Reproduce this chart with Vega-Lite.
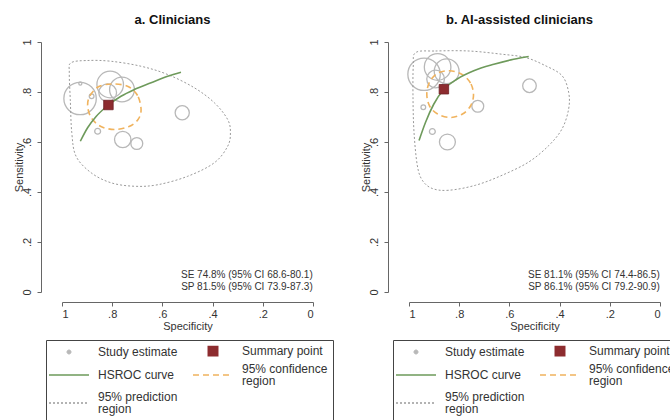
{
  "$schema": "https://vega.github.io/schema/vega-lite/v6.json",
  "padding": {"left": 13, "top": 13, "right": 0, "bottom": 0},
  "config": {
    "view": {"stroke": null},
    "font": "Liberation Sans",
    "axis": {"grid": false}
  },
  "datasets": {
    "a": [
      {"series": "Study estimate", "spec": 0.928, "sens": 0.774, "w": 335},
      {"series": "Study estimate", "spec": 0.927, "sens": 0.834, "w": 3},
      {"series": "Study estimate", "spec": 0.882, "sens": 0.783, "w": 7},
      {"series": "Study estimate", "spec": 0.808, "sens": 0.830, "w": 225},
      {"series": "Study estimate", "spec": 0.761, "sens": 0.810, "w": 196},
      {"series": "Study estimate", "spec": 0.818, "sens": 0.797, "w": 100},
      {"series": "Study estimate", "spec": 0.858, "sens": 0.643, "w": 11},
      {"series": "Study estimate", "spec": 0.758, "sens": 0.610, "w": 86},
      {"series": "Study estimate", "spec": 0.702, "sens": 0.594, "w": 45},
      {"series": "Study estimate", "spec": 0.521, "sens": 0.717, "w": 64},
      {"series": "Summary point", "spec": 0.815, "sens": 0.748, "note": "SE 74.8% (95% CI 68.6-80.1)\nSP 81.5% (95% CI 73.9-87.3)"},
      {"series": "HSROC curve", "ord": 1, "spec": 0.927, "sens": 0.603},
      {"series": "HSROC curve", "ord": 2, "spec": 0.898, "sens": 0.657},
      {"series": "HSROC curve", "ord": 3, "spec": 0.865, "sens": 0.701},
      {"series": "HSROC curve", "ord": 4, "spec": 0.815, "sens": 0.748},
      {"series": "HSROC curve", "ord": 5, "spec": 0.765, "sens": 0.783},
      {"series": "HSROC curve", "ord": 6, "spec": 0.712, "sens": 0.810},
      {"series": "HSROC curve", "ord": 7, "spec": 0.645, "sens": 0.837},
      {"series": "HSROC curve", "ord": 8, "spec": 0.579, "sens": 0.863},
      {"series": "HSROC curve", "ord": 9, "spec": 0.526, "sens": 0.879},
      {"series": "95% confidence region", "ord": 1, "spec": 0.685, "sens": 0.730},
      {"series": "95% confidence region", "ord": 2, "spec": 0.699, "sens": 0.786},
      {"series": "95% confidence region", "ord": 3, "spec": 0.737, "sens": 0.822},
      {"series": "95% confidence region", "ord": 4, "spec": 0.797, "sens": 0.832},
      {"series": "95% confidence region", "ord": 5, "spec": 0.853, "sens": 0.822},
      {"series": "95% confidence region", "ord": 6, "spec": 0.888, "sens": 0.786},
      {"series": "95% confidence region", "ord": 7, "spec": 0.898, "sens": 0.746},
      {"series": "95% confidence region", "ord": 8, "spec": 0.884, "sens": 0.698},
      {"series": "95% confidence region", "ord": 9, "spec": 0.845, "sens": 0.662},
      {"series": "95% confidence region", "ord": 10, "spec": 0.789, "sens": 0.650},
      {"series": "95% confidence region", "ord": 11, "spec": 0.733, "sens": 0.662},
      {"series": "95% confidence region", "ord": 12, "spec": 0.697, "sens": 0.690},
      {"series": "95% prediction region", "ord": 1, "spec": 0.964, "sens": 0.917},
      {"series": "95% prediction region", "ord": 2, "spec": 0.898, "sens": 0.926},
      {"series": "95% prediction region", "ord": 3, "spec": 0.805, "sens": 0.923},
      {"series": "95% prediction region", "ord": 4, "spec": 0.685, "sens": 0.903},
      {"series": "95% prediction region", "ord": 5, "spec": 0.579, "sens": 0.870},
      {"series": "95% prediction region", "ord": 6, "spec": 0.473, "sens": 0.817},
      {"series": "95% prediction region", "ord": 7, "spec": 0.393, "sens": 0.757},
      {"series": "95% prediction region", "ord": 8, "spec": 0.340, "sens": 0.690},
      {"series": "95% prediction region", "ord": 9, "spec": 0.329, "sens": 0.637},
      {"series": "95% prediction region", "ord": 10, "spec": 0.340, "sens": 0.583},
      {"series": "95% prediction region", "ord": 11, "spec": 0.393, "sens": 0.517},
      {"series": "95% prediction region", "ord": 12, "spec": 0.499, "sens": 0.463},
      {"series": "95% prediction region", "ord": 13, "spec": 0.619, "sens": 0.429},
      {"series": "95% prediction region", "ord": 14, "spec": 0.712, "sens": 0.423},
      {"series": "95% prediction region", "ord": 15, "spec": 0.805, "sens": 0.437},
      {"series": "95% prediction region", "ord": 16, "spec": 0.884, "sens": 0.477},
      {"series": "95% prediction region", "ord": 17, "spec": 0.944, "sens": 0.543},
      {"series": "95% prediction region", "ord": 18, "spec": 0.961, "sens": 0.637},
      {"series": "95% prediction region", "ord": 19, "spec": 0.967, "sens": 0.770},
      {"series": "95% prediction region", "ord": 20, "spec": 0.971, "sens": 0.877}
    ],
    "b": [
      {"series": "Study estimate", "spec": 0.940, "sens": 0.871, "w": 335},
      {"series": "Study estimate", "spec": 0.886, "sens": 0.900, "w": 225},
      {"series": "Study estimate", "spec": 0.850, "sens": 0.883, "w": 196},
      {"series": "Study estimate", "spec": 0.894, "sens": 0.852, "w": 100},
      {"series": "Study estimate", "spec": 0.943, "sens": 0.739, "w": 7},
      {"series": "Study estimate", "spec": 0.907, "sens": 0.642, "w": 11},
      {"series": "Study estimate", "spec": 0.847, "sens": 0.600, "w": 81},
      {"series": "Study estimate", "spec": 0.726, "sens": 0.743, "w": 45},
      {"series": "Study estimate", "spec": 0.520, "sens": 0.825, "w": 59},
      {"series": "Summary point", "spec": 0.861, "sens": 0.811, "note": "SE 81.1% (95% CI 74.4-86.5)\nSP 86.1% (95% CI 79.2-90.9)"},
      {"series": "HSROC curve", "ord": 1, "spec": 0.960, "sens": 0.606},
      {"series": "HSROC curve", "ord": 2, "spec": 0.934, "sens": 0.679},
      {"series": "HSROC curve", "ord": 3, "spec": 0.901, "sens": 0.752},
      {"series": "HSROC curve", "ord": 4, "spec": 0.861, "sens": 0.811},
      {"series": "HSROC curve", "ord": 5, "spec": 0.808, "sens": 0.852},
      {"series": "HSROC curve", "ord": 6, "spec": 0.742, "sens": 0.885},
      {"series": "HSROC curve", "ord": 7, "spec": 0.662, "sens": 0.911},
      {"series": "HSROC curve", "ord": 8, "spec": 0.583, "sens": 0.931},
      {"series": "HSROC curve", "ord": 9, "spec": 0.523, "sens": 0.942},
      {"series": "95% confidence region", "ord": 1, "spec": 0.743, "sens": 0.788},
      {"series": "95% confidence region", "ord": 2, "spec": 0.755, "sens": 0.836},
      {"series": "95% confidence region", "ord": 3, "spec": 0.790, "sens": 0.871},
      {"series": "95% confidence region", "ord": 4, "spec": 0.839, "sens": 0.885},
      {"series": "95% confidence region", "ord": 5, "spec": 0.886, "sens": 0.875},
      {"series": "95% confidence region", "ord": 6, "spec": 0.918, "sens": 0.840},
      {"series": "95% confidence region", "ord": 7, "spec": 0.929, "sens": 0.792},
      {"series": "95% confidence region", "ord": 8, "spec": 0.918, "sens": 0.744},
      {"series": "95% confidence region", "ord": 9, "spec": 0.886, "sens": 0.712},
      {"series": "95% confidence region", "ord": 10, "spec": 0.834, "sens": 0.698},
      {"series": "95% confidence region", "ord": 11, "spec": 0.787, "sens": 0.712},
      {"series": "95% confidence region", "ord": 12, "spec": 0.755, "sens": 0.744},
      {"series": "95% prediction region", "ord": 1, "spec": 0.973, "sens": 0.958},
      {"series": "95% prediction region", "ord": 2, "spec": 0.894, "sens": 0.964},
      {"series": "95% prediction region", "ord": 3, "spec": 0.761, "sens": 0.964},
      {"series": "95% prediction region", "ord": 4, "spec": 0.629, "sens": 0.951},
      {"series": "95% prediction region", "ord": 5, "spec": 0.536, "sens": 0.938},
      {"series": "95% prediction region", "ord": 6, "spec": 0.456, "sens": 0.905},
      {"series": "95% prediction region", "ord": 7, "spec": 0.390, "sens": 0.865},
      {"series": "95% prediction region", "ord": 8, "spec": 0.364, "sens": 0.799},
      {"series": "95% prediction region", "ord": 9, "spec": 0.364, "sens": 0.732},
      {"series": "95% prediction region", "ord": 10, "spec": 0.390, "sens": 0.653},
      {"series": "95% prediction region", "ord": 11, "spec": 0.443, "sens": 0.586},
      {"series": "95% prediction region", "ord": 12, "spec": 0.523, "sens": 0.520},
      {"series": "95% prediction region", "ord": 13, "spec": 0.629, "sens": 0.467},
      {"series": "95% prediction region", "ord": 14, "spec": 0.735, "sens": 0.427},
      {"series": "95% prediction region", "ord": 15, "spec": 0.841, "sens": 0.407},
      {"series": "95% prediction region", "ord": 16, "spec": 0.907, "sens": 0.414},
      {"series": "95% prediction region", "ord": 17, "spec": 0.947, "sens": 0.447},
      {"series": "95% prediction region", "ord": 18, "spec": 0.967, "sens": 0.507},
      {"series": "95% prediction region", "ord": 19, "spec": 0.980, "sens": 0.639},
      {"series": "95% prediction region", "ord": 20, "spec": 0.984, "sens": 0.772},
      {"series": "95% prediction region", "ord": 21, "spec": 0.983, "sens": 0.904}
    ]
  },
  "bounds": "flush",
  "spacing": 96,
  "resolve": {"scale": {"color": "independent"}, "legend": {"color": "independent"}},
  "hconcat": [
    {
      "width": 251,
      "height": 250,
      "title": {"text": "a. Clinicians", "frame": "group", "anchor": "middle", "dx": -15, "offset": 12, "fontSize": 13, "fontWeight": "bold", "color": "#111111"},
      "data": {"name": "a"},
      "encoding": {
        "x": {"field": "spec", "type": "quantitative", "title": "Specificity",
          "scale": {"domain": [0, 1], "reverse": true, "nice": false, "zero": false},
          "axis": {"values": [0, 0.2, 0.4, 0.6, 0.8, 1], "labelExpr": "datum.value == 1 ? '1' : datum.value == 0 ? '0' : replace(format(datum.value, '.1f'), '0.', '.')", "offset": 10, "tickSize": 4, "labelPadding": 2, "titlePadding": 1, "labelFontSize": 11, "titleFontSize": 11, "titleFontWeight": "normal", "domainColor": "#666666", "tickColor": "#666666", "labelColor": "#333333", "titleColor": "#333333"}},
        "y": {"field": "sens", "type": "quantitative", "title": "Sensitivity",
          "scale": {"domain": [0, 1], "nice": false, "zero": false},
          "axis": {"values": [0, 0.2, 0.4, 0.6, 0.8, 1], "labelExpr": "datum.value == 1 ? '1' : datum.value == 0 ? '0' : replace(format(datum.value, '.1f'), '0.', '.')", "offset": 21, "tickSize": 4, "labelPadding": 5, "labelAngle": 270, "labelAlign": "center", "labelBaseline": "bottom", "titlePadding": -3, "labelFontSize": 11, "titleFontSize": 11, "titleFontWeight": "normal", "domainColor": "#666666", "tickColor": "#666666", "labelColor": "#333333", "titleColor": "#333333"}},
        "color": {"field": "series", "type": "nominal",
          "scale": {"domain": ["Study estimate", "Summary point", "HSROC curve", "95% confidence region", "95% prediction region"], "range": ["#b8b8b8", "#8d2c2f", "#6e9a5b", "#f0b35e", "#9a9a9a"]},
          "legend": {"title": null, "orient": "none", "legendX": -16, "legendY": 298, "columns": 2, "direction": "horizontal", "strokeColor": "#444444", "padding": 5, "symbolOffset": 12, "labelFontSize": 12, "labelColor": "#333333", "labelOffset": 23, "labelLimit": 300, "columnPadding": 12, "rowPadding": 4,
            "labelExpr": "datum.label == '95% confidence region' ? ['95% confidence', 'region'] : datum.label == '95% prediction region' ? ['95% prediction', 'region'] : datum.label",
            "encode": {
              "labels": {"update": {
                "dy": {"signal": "indexof(datum.value, 'region') > 0 ? -6 : 0"},
                "lineHeight": {"value": 12}
              }},
              "symbols": {"update": {
              "shape": {"signal": "datum.value == 'Study estimate' ? 'circle' : datum.value == 'Summary point' ? 'square' : 'stroke'"},
              "size": {"signal": "datum.value == 'Study estimate' ? 16 : datum.value == 'Summary point' ? 90 : 1600"},
              "fill": {"signal": "datum.value == 'Summary point' ? '#8d2c2f' : 'transparent'"},
              "stroke": {"signal": "datum.value == 'Study estimate' ? '#b8b8b8' : datum.value == 'Summary point' ? '#8d2c2f' : datum.value == 'HSROC curve' ? '#6e9a5b' : datum.value == '95% confidence region' ? '#f0b35e' : '#9a9a9a'"},
              "strokeDash": {"signal": "datum.value == '95% confidence region' ? [6, 4] : datum.value == '95% prediction region' ? [2, 2] : [1, 0]"},
              "strokeWidth": {"signal": "datum.value == 'Study estimate' ? 1 : 1.5"},
              "opacity": {"value": 1}
            }}}}}
      },
      "layer": [
        {"transform": [{"filter": "datum.series == 'Study estimate'"}],
         "mark": {"type": "point", "shape": "circle", "filled": false, "strokeWidth": 1.3, "opacity": 1},
         "encoding": {"size": {"field": "w", "type": "quantitative", "scale": {"domain": [0, 100], "range": [0, 314]}, "legend": null}}},
        {"transform": [{"filter": "datum.series == '95% prediction region'"}],
         "mark": {"type": "line", "interpolate": "cardinal-closed", "strokeDash": [2, 2], "strokeWidth": 1},
         "encoding": {"order": {"field": "ord", "type": "quantitative"}}},
        {"transform": [{"filter": "datum.series == '95% confidence region'"}],
         "mark": {"type": "line", "interpolate": "cardinal-closed", "strokeDash": [6, 4], "strokeWidth": 1.6},
         "encoding": {"order": {"field": "ord", "type": "quantitative"}}},
        {"transform": [{"filter": "datum.series == 'HSROC curve'"}],
         "mark": {"type": "line", "interpolate": "monotone", "strokeWidth": 1.6},
         "encoding": {"order": {"field": "ord", "type": "quantitative"}}},
        {"transform": [{"filter": "datum.series == 'Summary point'"}],
         "mark": {"type": "point", "shape": "square", "filled": true, "size": 90, "opacity": 1, "stroke": "#6e1f24", "strokeWidth": 0.8}},
        {"transform": [{"filter": "datum.series == 'Summary point'"}],
         "mark": {"type": "text", "align": "right", "baseline": "bottom", "lineBreak": "\n", "lineHeight": 12, "fontSize": 10, "dy": -12},
         "encoding": {"x": {"datum": 0.001, "type": "quantitative"}, "y": {"datum": 0.001, "type": "quantitative"}, "text": {"field": "note", "type": "nominal"}, "color": {"value": "#333333"}}}
      ]
    },
    {
      "width": 251,
      "height": 250,
      "title": {"text": "b. AI-assisted clinicians", "frame": "group", "anchor": "middle", "dx": -15, "offset": 12, "fontSize": 13, "fontWeight": "bold", "color": "#111111"},
      "data": {"name": "b"},
      "encoding": {
        "x": {"field": "spec", "type": "quantitative", "title": "Specificity",
          "scale": {"domain": [0, 1], "reverse": true, "nice": false, "zero": false},
          "axis": {"values": [0, 0.2, 0.4, 0.6, 0.8, 1], "labelExpr": "datum.value == 1 ? '1' : datum.value == 0 ? '0' : replace(format(datum.value, '.1f'), '0.', '.')", "offset": 10, "tickSize": 4, "labelPadding": 2, "titlePadding": 1, "labelFontSize": 11, "titleFontSize": 11, "titleFontWeight": "normal", "domainColor": "#666666", "tickColor": "#666666", "labelColor": "#333333", "titleColor": "#333333"}},
        "y": {"field": "sens", "type": "quantitative", "title": "Sensitivity",
          "scale": {"domain": [0, 1], "nice": false, "zero": false},
          "axis": {"values": [0, 0.2, 0.4, 0.6, 0.8, 1], "labelExpr": "datum.value == 1 ? '1' : datum.value == 0 ? '0' : replace(format(datum.value, '.1f'), '0.', '.')", "offset": 21, "tickSize": 4, "labelPadding": 5, "labelAngle": 270, "labelAlign": "center", "labelBaseline": "bottom", "titlePadding": -3, "labelFontSize": 11, "titleFontSize": 11, "titleFontWeight": "normal", "domainColor": "#666666", "tickColor": "#666666", "labelColor": "#333333", "titleColor": "#333333"}},
        "color": {"field": "series", "type": "nominal",
          "scale": {"domain": ["Study estimate", "Summary point", "HSROC curve", "95% confidence region", "95% prediction region"], "range": ["#b8b8b8", "#8d2c2f", "#6e9a5b", "#f0b35e", "#9a9a9a"]},
          "legend": {"title": null, "orient": "none", "legendX": -16, "legendY": 298, "columns": 2, "direction": "horizontal", "strokeColor": "#444444", "padding": 5, "symbolOffset": 12, "labelFontSize": 12, "labelColor": "#333333", "labelOffset": 23, "labelLimit": 300, "columnPadding": 12, "rowPadding": 4,
            "labelExpr": "datum.label == '95% confidence region' ? ['95% confidence', 'region'] : datum.label == '95% prediction region' ? ['95% prediction', 'region'] : datum.label",
            "encode": {
              "labels": {"update": {
                "dy": {"signal": "indexof(datum.value, 'region') > 0 ? -6 : 0"},
                "lineHeight": {"value": 12}
              }},
              "symbols": {"update": {
              "shape": {"signal": "datum.value == 'Study estimate' ? 'circle' : datum.value == 'Summary point' ? 'square' : 'stroke'"},
              "size": {"signal": "datum.value == 'Study estimate' ? 16 : datum.value == 'Summary point' ? 90 : 1600"},
              "fill": {"signal": "datum.value == 'Summary point' ? '#8d2c2f' : 'transparent'"},
              "stroke": {"signal": "datum.value == 'Study estimate' ? '#b8b8b8' : datum.value == 'Summary point' ? '#8d2c2f' : datum.value == 'HSROC curve' ? '#6e9a5b' : datum.value == '95% confidence region' ? '#f0b35e' : '#9a9a9a'"},
              "strokeDash": {"signal": "datum.value == '95% confidence region' ? [6, 4] : datum.value == '95% prediction region' ? [2, 2] : [1, 0]"},
              "strokeWidth": {"signal": "datum.value == 'Study estimate' ? 1 : 1.5"},
              "opacity": {"value": 1}
            }}}}}
      },
      "layer": [
        {"transform": [{"filter": "datum.series == 'Study estimate'"}],
         "mark": {"type": "point", "shape": "circle", "filled": false, "strokeWidth": 1.3, "opacity": 1},
         "encoding": {"size": {"field": "w", "type": "quantitative", "scale": {"domain": [0, 100], "range": [0, 314]}, "legend": null}}},
        {"transform": [{"filter": "datum.series == '95% prediction region'"}],
         "mark": {"type": "line", "interpolate": "cardinal-closed", "strokeDash": [2, 2], "strokeWidth": 1},
         "encoding": {"order": {"field": "ord", "type": "quantitative"}}},
        {"transform": [{"filter": "datum.series == '95% confidence region'"}],
         "mark": {"type": "line", "interpolate": "cardinal-closed", "strokeDash": [6, 4], "strokeWidth": 1.6},
         "encoding": {"order": {"field": "ord", "type": "quantitative"}}},
        {"transform": [{"filter": "datum.series == 'HSROC curve'"}],
         "mark": {"type": "line", "interpolate": "monotone", "strokeWidth": 1.6},
         "encoding": {"order": {"field": "ord", "type": "quantitative"}}},
        {"transform": [{"filter": "datum.series == 'Summary point'"}],
         "mark": {"type": "point", "shape": "square", "filled": true, "size": 90, "opacity": 1, "stroke": "#6e1f24", "strokeWidth": 0.8}},
        {"transform": [{"filter": "datum.series == 'Summary point'"}],
         "mark": {"type": "text", "align": "right", "baseline": "bottom", "lineBreak": "\n", "lineHeight": 12, "fontSize": 10, "dy": -12},
         "encoding": {"x": {"datum": 0.001, "type": "quantitative"}, "y": {"datum": 0.001, "type": "quantitative"}, "text": {"field": "note", "type": "nominal"}, "color": {"value": "#333333"}}}
      ]
    }
  ]
}
